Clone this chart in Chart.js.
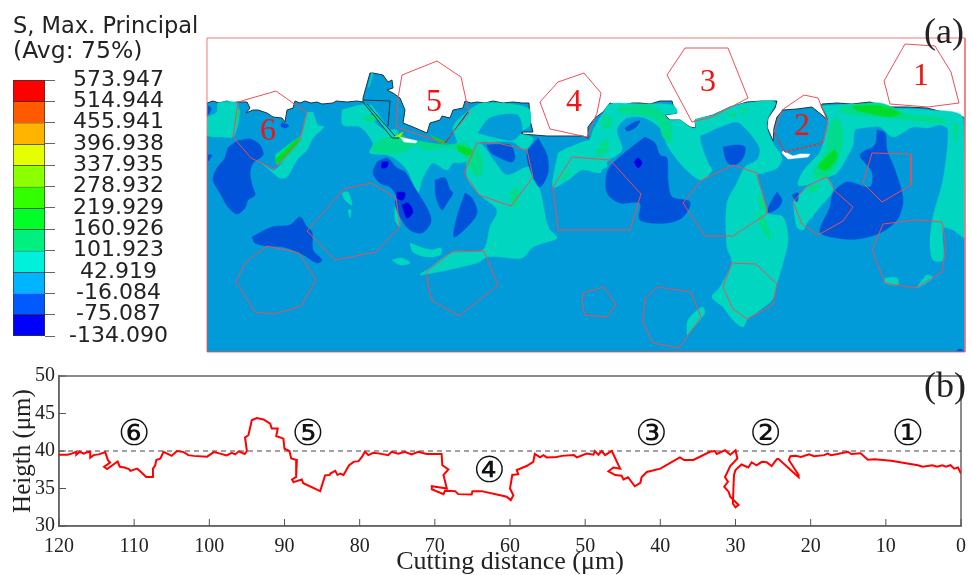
<!DOCTYPE html>
<html>
<head>
<meta charset="utf-8">
<title>Max principal stress and surface profile</title>
<script src="https://cdn.jsdelivr.net/npm/chart.js@4/dist/chart.umd.min.js"></script>
<style>
  body { margin: 0; background: #fff; }
  #page { position: relative; width: 972px; height: 575px; overflow: hidden; }
  canvas { position: absolute; left: 0; top: 0; }
  .txt { position: absolute; white-space: nowrap; color: #222; }
  .legendTitle { font-family: "DejaVu Sans"; left: 13px; }
  .panelTag { font: 36px "Liberation Serif"; }
</style>
</head>
<body>
<div id="page">
  <canvas id="fieldChart" width="972" height="575"></canvas>
  <canvas id="barChart" width="972" height="575"></canvas>
  <canvas id="profileChart" width="972" height="575"></canvas>
  <div class="txt legendTitle" style="top:12px;font-size:22.5px">S, Max. Principal</div>
  <div class="txt legendTitle" style="top:36px;font-size:23.5px">(Avg: 75%)</div>
  <div class="txt panelTag" style="left:924px;top:10px">(a)</div>
  <div class="txt panelTag" style="left:924px;top:364px">(b)</div>
</div>
<script>
// contour levels of the legend
const levels = [573.947, 514.944, 455.941, 396.938, 337.935, 278.932, 219.929, 160.926, 101.923, 42.919, -16.084, -75.087, -134.090];
const levelColors = ["#ff0000", "#ff5a00", "#ffb400", "#e6ff00", "#8cff00", "#32ff00", "#00ff28", "#00f080", "#00f0dc", "#00b4ff", "#005aff", "#0000ff"];

// lower plot: height profile
const profileX = [120,118.9,118.3,117.7,117.7,117.25,116.7,116.4,115.85,115.85,115.4,114.7,113.85,113.5,113.2,114,113.6,112.2,111.9,111.3,110.7,110.5,109.6,109.2,108.4,107.6,107.5,107.2,107.05,106.5,106.1,105.6,105,104.7,104.3,103.4,102.8,102.1,100.3,99.4,98.55,97.7,97,96.55,96.1,95.3,95,95.25,94.8,94.35,93.7,92.8,91.9,91.7,90.9,91.1,90.15,90,89.35,89.1,88.35,88.45,89,88.8,87.7,87.5,85.25,84.6,84,83.9,83.25,82.95,82.6,82.15,81.4,80.8,80.15,79.7,79.3,78.85,78.2,77.3,76.2,75.75,74.85,74,73.1,72.2,71.1,69.1,69,68.2,68.85,68.4,70.4,70.4,68.85,68.65,67.3,66.9,65.1,65,63.8,61.3,60.45,59.9,59.55,60,59.7,58.9,59.1,57.8,56.9,56.7,56,55.55,55.1,53.8,53.1,51.5,51.1,49.8,48.9,48.7,48.25,47.8,47.35,46.45,45.35,46.25,46.9,46,45.15,44.9,44.3,43.4,42.65,42.5,42,41.8,40,37.4,36.85,35.6,33.4,32.75,32.5,31.4,30.7,30,29.75,30.7,31.4,31,31.5,30.9,30.7,29.6,30,30.35,30.2,30,29.2,28.3,27.85,27.2,26.5,25.85,25.2,24.5,24.3,21.6,21.6,22.9,22.7,22,21.3,20.2,19.55,18.2,17.75,17.3,16.4,15.05,14.6,13.35,12.4,11.5,9.3,5.75,5.1,3.8,3.2,2.5,2,1.4,0.9,0.4,0];
const profileY = [39.5,39.5,39.65,39.9,39.5,39.9,39.65,39.8,39.9,39.1,39.45,39.55,39.85,38.8,38.45,37.9,37.6,38.6,37.9,37.8,37.6,37.35,37.65,37.3,36.55,36.55,37.65,38.1,38.8,39,39.9,39.65,39.35,39.65,40,39.85,39.45,39.35,39.25,39.85,39.65,39.4,39.75,39.55,39.95,39.6,40,41.8,42.1,44.1,44.4,44.2,43.65,43,43,42,41.65,40.3,40,39,38.8,36.55,36.2,35.85,36.2,35.7,34.65,36.75,36.8,37,37.35,36.8,37,36.8,38.1,38.55,38.65,39.2,39.9,39.45,39.75,39.65,39.45,39.9,39.65,39.9,39.55,39.9,39.6,39.6,38.1,37.55,36.8,35,35.3,34.9,34.25,34.7,34.65,34.25,34.2,34.65,34.65,34.1,33.9,33.45,34.1,35,36.8,36.9,37.45,38,38.55,39.6,39.15,39.45,39.15,39.2,39.35,39.45,39.15,39.65,39.5,40,39.5,40,39.45,40,37.65,37.8,37.3,36.8,36.7,36.2,36.5,35.3,35.75,36.5,37,37.2,37.65,39.15,38.8,38.8,39.9,40,39.6,40.1,39.5,40.1,39,38,36.5,35.9,35.25,34.55,33.9,32.8,32.5,33,36.8,37.45,38.2,37.8,38.5,38.1,38.55,38.5,38,38.9,38.95,36.5,36.8,38.8,39.3,39.35,39.2,39.55,39.3,39.45,39.65,39.45,39.6,39.9,39.6,39.7,38.85,38.9,38.7,38.1,37.9,38.1,37.9,38.1,37.9,38.1,37.65,37.8,37];
const referenceX = [120, 0];
const referenceY = [40, 40];
const zoneNames = ["①", "②", "③", "④", "⑤", "⑥"];
const zoneX = [7.05, 26, 41.2, 62.75, 86.9, 110];
const zoneY = [42.1, 42.1, 42.1, 37.15, 42.1, 42.1];

// upper plot: stress field, in field units (0..758 across, 0..314 down)
const materialOutline = [[0,65],[6,63],[12,65],[20,63],[25,65],[30,64],[40,64],[43,70],[39,75],[46,72],[51,72],[60,75],[66,79],[75,80],[78,84],[80,72],[86,70],[88,63],[93,65],[98,63],[104,65],[110,64],[115,66],[126,65],[129,63],[140,64],[150,63],[156,64],[156,60],[163,35],[166,35],[176,37],[181,44],[185,42],[186,50],[180,52],[186,55],[193,60],[198,72],[196,85],[206,89],[220,95],[223,85],[233,82],[235,78],[243,80],[246,72],[256,70],[258,63],[264,65],[270,64],[278,65],[286,63],[296,65],[306,64],[315,65],[322,65],[323,82],[326,94],[315,94],[315,96],[340,98],[376,98],[381,100],[381,89],[388,80],[396,74],[403,65],[410,67],[416,67],[425,65],[433,65],[443,66],[453,63],[465,63],[466,67],[470,75],[458,77],[463,82],[473,82],[483,89],[489,90],[488,82],[506,77],[523,69],[540,64],[555,63],[570,63],[568,70],[561,80],[560,89],[566,103],[567,90],[570,79],[576,72],[590,71],[605,69],[621,82],[614,68],[615,66],[630,65],[645,66],[663,64],[680,69],[700,69],[720,70],[736,74],[756,79],[758,80],[758,314],[0,314]];

const tealRegions = [
  [[0,79],[10,74],[11,65],[30,65],[31,77],[30,89],[26,99],[16,99],[0,97]],
  [[106,74],[111,87],[117,89],[106,100],[100,112],[90,122],[80,139],[73,140],[65,134],[55,125],[68,132],[93,99],[100,75]],
  [[135,72],[160,67],[166,82],[178,92],[190,92],[193,102],[220,105],[238,107],[250,105],[246,89],[260,74],[276,65],[321,70],[323,87],[313,95],[326,100],[318,112],[306,104],[286,104],[270,105],[260,122],[253,125],[246,125],[240,132],[226,125],[220,132],[215,142],[211,155],[206,145],[200,132],[190,122],[180,117],[163,115],[166,105],[153,89],[136,87]],
  [[261,109],[273,105],[288,124],[300,137],[321,129],[326,139],[333,152],[341,189],[350,200],[340,204],[326,209],[315,220],[293,219],[280,219],[270,225],[213,237],[223,230],[246,214],[276,212],[283,189],[290,172],[273,157],[260,139]],
  [[203,205],[213,209],[225,212],[234,210],[233,217],[220,219],[206,214]],
  [[185,222],[195,220],[203,225],[193,227]],
  [[135,155],[141,154],[145,167],[138,162]],
  [[141,172],[144,172],[143,180]],
  [[188,169],[191,165],[193,189],[188,182]],
  [[161,49],[165,35],[166,35],[162,49]],
  [[161,69],[185,99],[187,99],[164,67]],
  [[386,92],[396,75],[403,66],[433,66],[466,67],[470,75],[458,77],[463,82],[473,82],[483,89],[489,90],[488,82],[506,77],[523,69],[540,65],[568,64],[561,80],[560,90],[566,105],[575,120],[570,130],[556,135],[550,137],[555,155],[561,175],[576,179],[581,202],[576,225],[570,245],[565,262],[553,272],[540,282],[536,289],[526,282],[516,269],[505,259],[513,249],[525,224],[520,209],[520,165],[530,145],[538,129],[550,122],[553,112],[550,105],[540,92],[530,84],[513,89],[500,95],[493,99],[501,125],[505,132],[495,142],[485,137],[473,125],[460,107],[455,92],[438,80],[420,80],[410,92],[415,112],[400,124],[400,129],[388,132],[381,125],[380,115]],
  [[615,68],[650,66],[680,70],[720,72],[756,80],[758,199],[746,192],[736,190],[736,222],[726,222],[723,205],[726,179],[736,142],[741,92],[733,87],[720,90],[706,89],[686,99],[673,89],[656,90],[648,92],[646,107],[640,119],[630,135],[620,139],[600,147],[591,147],[595,135],[603,125],[613,114],[621,82]],
  [[586,164],[600,149],[620,140],[626,152],[613,169],[600,185],[596,192],[590,189]],
  [[678,240],[690,240],[691,247],[678,245]],
  [[713,245],[720,237],[726,240],[710,250]],
  [[480,297],[481,282],[495,269],[498,274],[493,282]],
  [[351,115],[363,109],[386,103],[395,128],[393,135],[375,132],[361,142],[346,149]]
];
const baseIslands = [
  [[271,95],[283,80],[310,77],[315,92],[306,102],[286,99]]
];
const seaGreenRegions = [
  [[163,112],[173,102],[186,99],[238,107],[260,105],[266,115],[271,135],[263,132],[256,117],[240,109],[220,112],[210,107],[193,115],[173,115]],
  [[270,107],[276,125],[273,139],[265,134]],
  [[68,117],[93,99],[93,105],[71,127]],
  [[30,72],[33,72],[30,89]],
  [[155,80],[165,77],[173,80],[163,84]],
  [[303,155],[311,149],[310,169],[305,165]],
  [[355,139],[363,132],[358,142]],
  [[410,70],[443,67],[463,85],[464,105],[456,99],[450,82],[433,77],[413,75]],
  [[396,79],[405,80],[403,90],[396,89]],
  [[388,119],[393,107],[401,102],[400,114]],
  [[520,77],[528,74],[528,79]],
  [[534,72],[540,70],[536,78]],
  [[633,69],[673,65],[703,77],[736,80],[740,85],[703,82],[673,79],[636,75]],
  [[621,92],[630,79],[636,99],[630,125],[621,139],[606,139],[613,122],[620,109]],
  [[746,85],[751,87],[748,105]],
  [[600,149],[613,147],[606,155]],
  [[551,155],[558,165],[560,175],[553,169]],
  [[548,174],[555,177],[565,199],[560,200]]
];
const greenRegions = [
  [[193,95],[198,99],[190,100]],
  [[223,97],[240,105],[233,105]],
  [[250,107],[265,112],[263,117],[253,114]],
  [[621,117],[628,112],[630,119],[620,132],[611,129]],
  [[645,68],[673,68],[693,75],[683,79],[650,72]],
  [[68,122],[91,100],[91,104],[71,125]]
];
const yellowRegions = [
  [[188,99],[196,94],[193,99]]
];
const blueRegions = [
  [[30,103],[43,101],[53,107],[56,117],[46,125],[43,135],[45,147],[48,157],[41,162],[38,170],[30,176],[21,169],[13,155],[6,142],[10,130],[18,120],[21,110]],
  [[45,199],[65,189],[83,187],[93,179],[100,189],[105,194],[106,212],[115,222],[110,225],[93,215],[76,209],[60,208],[48,205]],
  [[170,124],[180,120],[190,130],[198,134],[206,147],[211,155],[221,172],[224,184],[215,195],[203,192],[193,179],[188,165],[190,159],[183,149],[173,145],[166,135]],
  [[228,142],[238,140],[243,152],[246,155],[240,165],[235,172],[229,159]],
  [[258,155],[265,160],[270,175],[260,189],[247,199],[250,179]],
  [[280,107],[303,107],[308,119],[305,124],[293,120],[283,114]],
  [[331,100],[340,117],[341,135],[333,149],[326,139],[320,115]],
  [[0,67],[4,70],[2,76],[0,76]],
  [[0,117],[5,117],[0,124]],
  [[75,84],[82,88],[78,90],[74,88]],
  [[438,99],[448,105],[453,117],[460,120],[461,142],[465,159],[483,164],[476,179],[460,185],[433,182],[433,165],[413,165],[400,155],[401,132],[415,117]],
  [[418,90],[428,84],[433,83],[428,90],[420,93]],
  [[516,109],[530,107],[538,109],[536,120],[528,127],[520,124]],
  [[570,154],[575,162],[571,170],[560,175],[565,162]],
  [[585,157],[591,155],[590,164]],
  [[670,92],[678,95],[680,112],[688,132],[696,162],[690,182],[673,195],[650,201],[630,200],[613,194],[623,169],[626,155],[640,144],[663,149],[665,134],[653,117],[668,107]],
  [[748,314],[753,311],[758,314]]
];
const deepBlueRegions = [
  [[195,167],[201,165],[206,174],[200,180]],
  [[427,124],[431,120],[435,125],[431,130]],
  [[190,154],[198,155],[196,162],[190,160]],
  [[175,124],[181,124],[180,129],[175,130]]
];
const voidRegions = [
  [[193,99],[210,103],[209,105],[197,104]],
  [[575,115],[581,121],[601,119],[603,116],[593,116],[586,118],[576,113]]
];
const chipLines = [
  [[156,64],[185,100],[192,100]],
  [[160,66],[188,98]],
  [[156,62],[183,63],[181,88]],
  [[261,74],[238,105]],
  [[567,94],[578,114],[616,105]]
];
const grains = [
  [[31,64],[69,53],[100,75],[93,102],[67,131],[44,120],[26,99]],
  [[195,37],[230,23],[254,39],[262,75],[237,105],[189,89],[191,60]],
  [[333,64],[351,44],[377,35],[394,55],[390,75],[380,99],[343,91]],
  [[460,37],[478,10],[521,10],[541,60],[505,79],[485,84]],
  [[575,72],[597,57],[611,60],[621,84],[616,105],[578,114],[567,94]],
  [[698,6],[728,8],[744,34],[752,65],[721,69],[683,66],[677,43]],
  [[270,105],[290,105],[320,112],[326,139],[304,168],[272,157],[257,135]],
  [[365,119],[403,122],[434,156],[423,192],[351,192],[346,149]],
  [[495,142],[526,127],[550,135],[561,175],[526,198],[498,198],[476,165]],
  [[600,148],[620,139],[628,153],[646,169],[636,183],[611,197],[595,186],[586,164]],
  [[665,115],[704,116],[704,147],[675,164],[656,145]],
  [[676,186],[708,182],[735,184],[739,209],[735,234],[709,250],[678,245],[665,212]],
  [[525,225],[549,226],[570,246],[566,267],[540,281],[526,271],[516,249]],
  [[451,249],[484,254],[494,279],[472,310],[446,305],[436,284],[438,260]],
  [[376,255],[397,249],[409,267],[400,279],[378,277],[375,265]],
  [[137,151],[164,145],[189,160],[193,189],[169,214],[128,222],[100,193]],
  [[60,208],[92,215],[109,242],[94,268],[68,276],[48,274],[29,244],[38,225]],
  [[245,214],[277,213],[291,247],[252,278],[224,262],[219,234]]
];
const fieldFrame = [[0,0],[758,0],[758,314],[0,314]];
const grainNames = ["1", "2", "3", "4", "5", "6"];
const grainNameX = [714, 595, 501, 367, 227, 61];
const grainNameY = [39, 89, 45, 65, 65, 94];

Chart.defaults.animation = false;
Chart.defaults.responsive = false;
Chart.defaults.plugins.legend.display = false;
Chart.defaults.plugins.tooltip.enabled = false;

const toPoints = list => list.map(p => ({ x: p[0], y: p[1] }));
const closed = list => toPoints(list.concat([list[0]]));

// one filled scatter dataset per region, smoothed so the contours look like contours
function fillLayer(regions, color, tension) {
  return regions.map(r => ({
    data: closed(r),
    showLine: true,
    fill: "shape",
    tension: tension,
    backgroundColor: color,
    borderColor: color,
    borderWidth: 0.5,
    pointRadius: 0
  }));
}

function outlineLayer(lines, color, width, close) {
  return lines.map(r => ({
    data: close ? closed(r) : toPoints(r),
    showLine: true,
    fill: false,
    borderColor: color,
    borderWidth: width,
    pointRadius: 0,
    clip: false
  }));
}

// listed bottom layer first, reversed below since Chart.js paints the first dataset on top
const fieldDatasets = [
  {
    data: closed(materialOutline),
    showLine: true,
    fill: "shape",
    backgroundColor: "#009bd8",
    borderColor: "#1d3540",
    borderWidth: 1,
    pointRadius: 0
  },
  ...fillLayer(tealRegions, "#00d6c0", 0.3),
  ...fillLayer(baseIslands, "#009bd8", 0.3),
  ...fillLayer(seaGreenRegions, "#00dc8c", 0.3),
  ...fillLayer(greenRegions, "#00dc28", 0.3),
  ...fillLayer(yellowRegions, "#a0f000", 0),
  ...fillLayer(blueRegions, "#0052d8", 0.3),
  ...fillLayer(deepBlueRegions, "#0000e0", 0.3),
  ...fillLayer(voidRegions, "#ffffff", 0),
  ...outlineLayer(chipLines, "#1d3540", 1, false),
  ...outlineLayer(grains, "#e8505a", 1, true),
  ...outlineLayer([fieldFrame], "#f07878", 1, true)
].reverse();

// numerals on the grains
const grainNamePlugin = {
  id: "grainNames",
  afterDatasetsDraw(chart) {
    const ctx = chart.ctx;
    ctx.save();
    ctx.font = '32px "Liberation Serif"';
    ctx.fillStyle = "#f01414";
    ctx.textAlign = "center";
    ctx.textBaseline = "middle";
    grainNames.forEach((name, i) => {
      ctx.fillText(name, chart.scales.x.getPixelForValue(grainNameX[i]), chart.scales.y.getPixelForValue(grainNameY[i]));
    });
    ctx.restore();
  }
};

new Chart(document.getElementById("fieldChart"), {
  type: "scatter",
  data: { datasets: fieldDatasets },
  plugins: [grainNamePlugin],
  options: {
    layout: { padding: { left: 207, top: 38, right: 7, bottom: 223 } },
    scales: {
      x: { display: false, min: 0, max: 758 },
      y: { display: false, min: 0, max: 314, reverse: true }
    }
  }
});

// legend colour bar, one floating bar per band
new Chart(document.getElementById("barChart"), {
  type: "bar",
  data: {
    labels: ["S"],
    datasets: levelColors.map((color, i) => ({
      data: [[levels[i + 1], levels[i]]],
      backgroundColor: color,
      borderColor: "#333",
      borderWidth: 1,
      barPercentage: 1,
      categoryPercentage: 1
    }))
  },
  options: {
    layout: { padding: { left: 13, top: 80, right: 797, bottom: 239 } },
    scales: {
      x: { display: false, stacked: true },
      y: {
        position: "right",
        min: levels[levels.length - 1],
        max: levels[0],
        afterBuildTicks: scale => { scale.ticks = levels.map(v => ({ value: v })); },
        afterFit: scale => { scale.width = 130; },
        grid: { drawOnChartArea: false, tickLength: 10, tickColor: "#666" },
        border: { display: false },
        ticks: {
          autoSkip: false,
          padding: 14,
          crossAlign: "center",
          color: "#222",
          font: { family: "DejaVu Sans", size: 22 },
          callback: v => v.toFixed(3)
        }
      }
    }
  }
});

// box around the lower plot, inward ticks and circled zone numbers
const profileExtras = {
  id: "profileExtras",
  beforeDatasetsDraw(chart) {
    const a = chart.chartArea;
    const ctx = chart.ctx;
    ctx.save();
    ctx.strokeStyle = "#666";
    ctx.lineWidth = 1.5;
    ctx.strokeRect(a.left, a.top, a.right - a.left, a.bottom - a.top);
    ctx.strokeStyle = "#555";
    ctx.lineWidth = 1;
    ctx.beginPath();
    chart.scales.x.ticks.forEach((t, i) => {
      const px = chart.scales.x.getPixelForTick(i);
      ctx.moveTo(px, a.bottom);
      ctx.lineTo(px, a.bottom - 7);
    });
    chart.scales.y.ticks.forEach((t, i) => {
      const py = chart.scales.y.getPixelForTick(i);
      ctx.moveTo(a.left, py);
      ctx.lineTo(a.left + 7, py);
    });
    ctx.stroke();
    ctx.restore();
  },
  afterDatasetsDraw(chart) {
    const ctx = chart.ctx;
    ctx.save();
    ctx.font = '36px "DejaVu Sans"';
    ctx.fillStyle = "#111";
    ctx.textAlign = "center";
    ctx.textBaseline = "middle";
    zoneNames.forEach((name, i) => {
      ctx.fillText(name, chart.scales.x.getPixelForValue(zoneX[i]), chart.scales.y.getPixelForValue(zoneY[i]));
    });
    ctx.restore();
  }
};

const serif = (size, lineHeight) => ({ family: "Liberation Serif", size: size, lineHeight: lineHeight || 1.2 });

new Chart(document.getElementById("profileChart"), {
  type: "scatter",
  data: {
    datasets: [
      {
        data: profileX.map((x, i) => ({ x: x, y: profileY[i] })),
        showLine: true,
        borderColor: "#ff0000",
        borderWidth: 2,
        pointRadius: 0
      },
      {
        data: referenceX.map((x, i) => ({ x: x, y: referenceY[i] })),
        showLine: true,
        borderColor: "#444",
        borderWidth: 1,
        borderDash: [5, 4],
        pointRadius: 0
      }
    ]
  },
  plugins: [profileExtras],
  options: {
    layout: { padding: { left: 0, top: 376, right: 11, bottom: 0 } },
    scales: {
      x: {
        reverse: true,
        min: 0,
        max: 120,
        afterFit: scale => { scale.height = 49; scale.paddingLeft = 0; scale.paddingRight = 0; },
        grid: { drawOnChartArea: false, drawTicks: false },
        border: { color: "#666", width: 1.5 },
        ticks: { stepSize: 10, padding: 9, maxRotation: 0, color: "#222", font: serif(20) },
        title: { display: true, text: "Cutting distance (μm)", color: "#222", font: serif(26, 1), padding: { top: 0, bottom: 0 } }
      },
      y: {
        min: 30,
        max: 50,
        afterFit: scale => { scale.width = 59; scale.paddingTop = 0; scale.paddingBottom = 0; },
        grid: { drawOnChartArea: false, drawTicks: false },
        border: { color: "#666", width: 1.5 },
        ticks: { stepSize: 5, padding: 4, color: "#222", font: serif(20) },
        title: { display: true, text: "Heigth (μm)", color: "#222", font: serif(25), padding: { top: 8, bottom: 0 } }
      }
    }
  }
});
</script>
</body>
</html>
